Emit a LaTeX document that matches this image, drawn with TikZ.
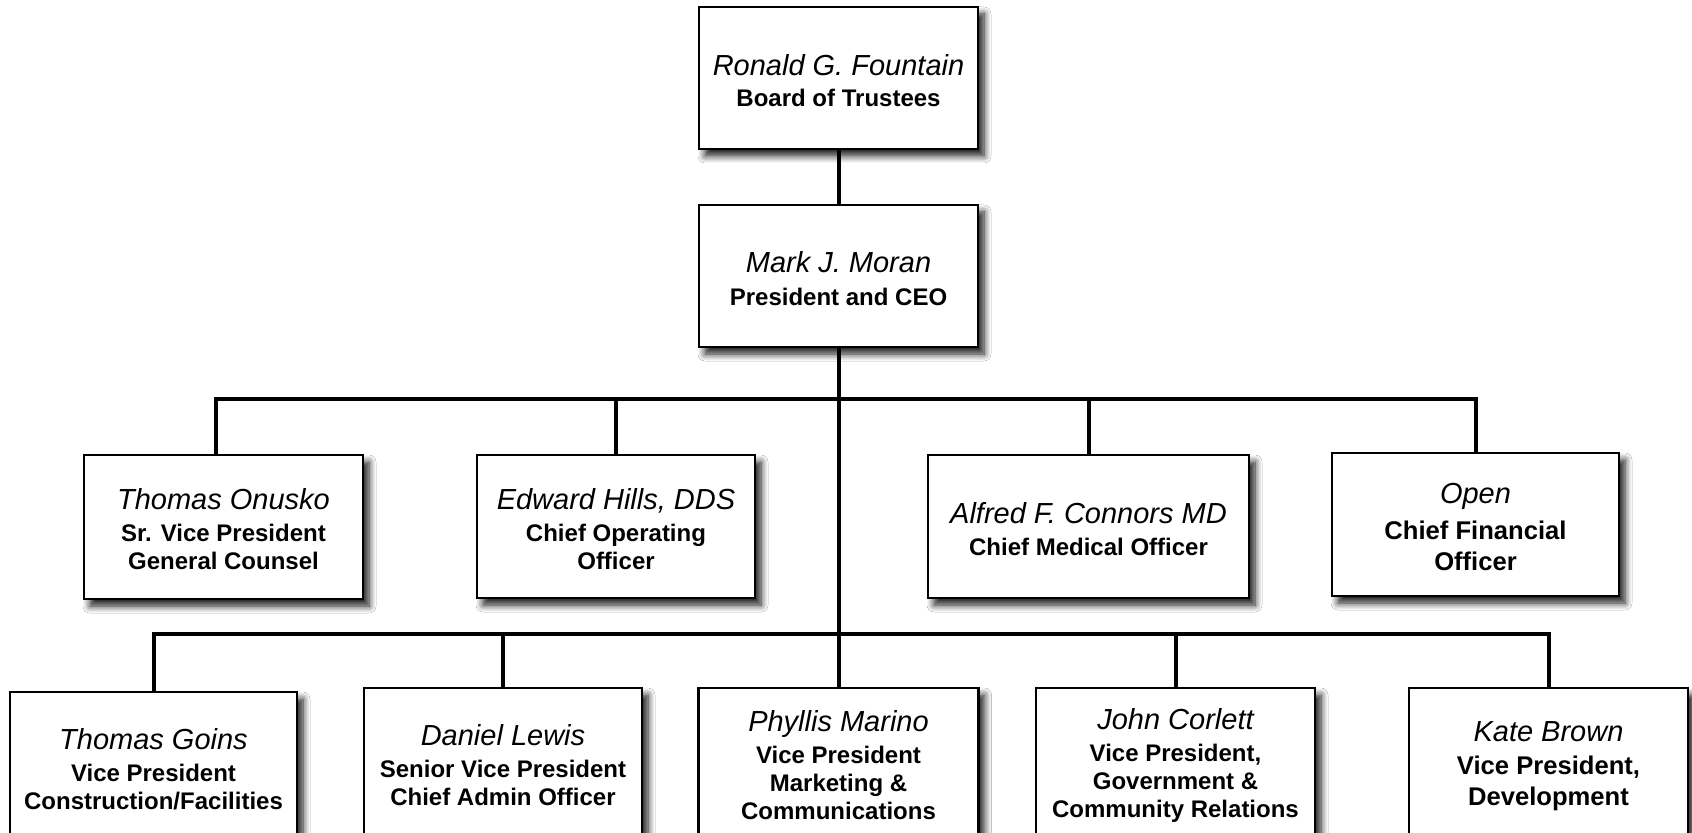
\documentclass[tikz,border=0pt]{standalone}
\usepackage{fontspec}
\setmainfont{Liberation Sans}
\usetikzlibrary{shadows.blur}
\newcommand\pname[1]{{\fontsize{14.5}{16}\selectfont\mdseries\itshape\rule{0pt}{12.8pt}#1}}
\begin{document}
\begin{tikzpicture}[x=0.5pt,y=-0.5pt,
  box/.style={draw=black, line width=1.2pt, fill=white, inner sep=0pt, align=center,
    font=\fontsize{12}{14}\selectfont\bfseries,
    blur shadow={shadow xshift=3pt, shadow yshift=-3.5pt, shadow blur radius=3.5pt, shadow blur steps=8, shadow opacity=90}},
  bigbox/.style={box, font=\fontsize{12.8}{15.5}\selectfont\bfseries},
  conn/.style={line width=2pt, line join=miter}]
\useasboundingbox (0,0) rectangle (1692,833);
\fill[white] (0,0) rectangle (1692,833);
\clip (0,0) rectangle (1692,833);

% top levels
\node[box, minimum width=139.5pt, minimum height=71pt] (top) at (838.5,78)
  {\pname{Ronald G. Fountain}\\[1.6pt]Board of Trustees};
\node[box, minimum width=139.5pt, minimum height=71pt] (ceo) at (838.5,276)
  {\pname{Mark J. Moran}\\[2.5pt]President and CEO};

% second row
\node[box, minimum width=139.5pt, minimum height=72pt] (onusko) at (223.5,527)
  {\pname{Thomas Onusko}\\[2pt]Sr. Vice President\\General Counsel};
\node[box, minimum width=139pt, minimum height=71.5pt] (hills) at (616,526.5)
  {\pname{Edward Hills, DDS}\\[2pt]Chief Operating\\Officer};
\node[box, minimum width=160.5pt, minimum height=71.5pt] (connors) at (1088.5,526.5)
  {\pname{Alfred F. Connors MD}\\[2pt]Chief Medical Officer};
\node[bigbox, minimum width=143.5pt, minimum height=71.5pt] (open) at (1475.5,524.5)
  {\pname{Open}\\[2.5pt]Chief Financial\\Officer};

% third row
\node[box, minimum width=143.5pt, minimum height=75pt] (goins) at (153.5,767)
  {\pname{Thomas Goins}\\[2pt]Vice President\\Construction/Facilities};
\node[box, minimum width=139pt, minimum height=75pt] (lewis) at (503,763)
  {\pname{Daniel Lewis}\\[2pt]Senior Vice President\\Chief Admin Officer};
\node[box, minimum width=140pt, minimum height=75pt] (marino) at (838.5,763)
  {\pname{Phyllis Marino}\\[2pt]Vice President\\Marketing \&\\Communications};
\node[box, minimum width=139.5pt, minimum height=75pt] (corlett) at (1175.5,763)
  {\pname{John Corlett}\\[2pt]Vice President,\\Government \&\\Community Relations};
\node[bigbox, minimum width=139.5pt, minimum height=75pt] (brown) at (1548.5,763)
  {\pname{Kate Brown}\\[1pt]Vice President,\\Development};

% connectors
\coordinate (b1) at (216,399);
\coordinate (b2) at (0,634.5);
\draw[conn] (top.south) -- (ceo.north);
\draw[conn] (ceo.south) -- (marino.north);
\draw[conn] (b1 |- onusko.north) -- (b1) -- (open.north |- b1) -- (open.north);
\draw[conn] (hills.north) -- (hills.north |- b1);
\draw[conn] (connors.north) -- (connors.north |- b1);
\draw[conn] (goins.north) -- (goins.north |- b2) -- (brown.north |- b2) -- (brown.north);
\draw[conn] (lewis.north) -- (lewis.north |- b2);
\draw[conn] (corlett.north) -- (corlett.north |- b2);
\end{tikzpicture}
\end{document}
